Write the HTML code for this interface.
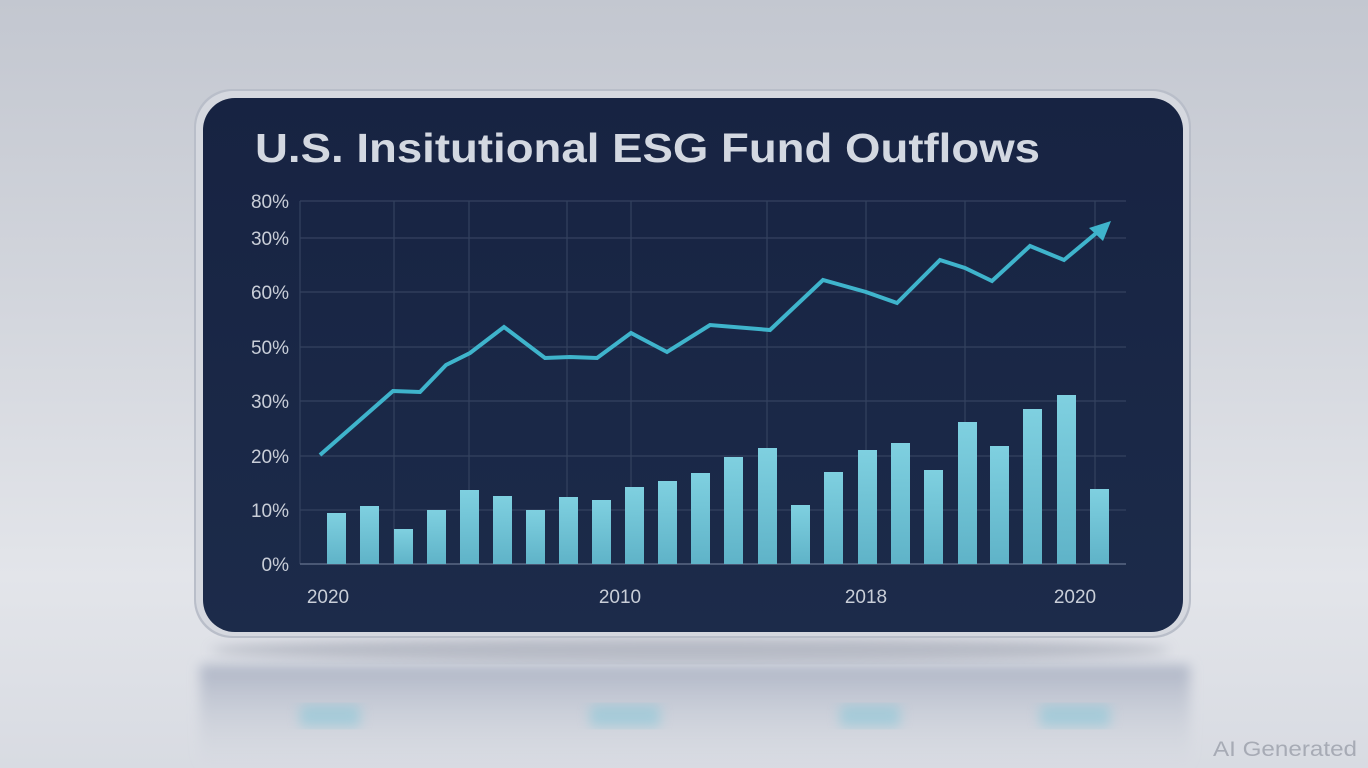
<!DOCTYPE html>
<html><head><style>
html,body{margin:0;padding:0;width:1368px;height:768px;overflow:hidden;}
body{background:linear-gradient(180deg,#c3c7d0 0%,#d3d6dd 40%,#e3e5ea 75%,#d8dbe2 100%);position:relative;font-family:"Liberation Sans",sans-serif;}
</style></head><body>
<svg width="1368" height="768" style="position:absolute;left:0;top:0">
<defs>
<linearGradient id="bar" x1="0" y1="0" x2="0" y2="1"><stop offset="0" stop-color="#7fd0e0"/><stop offset="1" stop-color="#5fb3c8"/></linearGradient>
<linearGradient id="pan" x1="0" y1="0" x2="0" y2="1"><stop offset="0" stop-color="#172342"/><stop offset="1" stop-color="#1c2b4a"/></linearGradient>
<linearGradient id="refl" x1="0" y1="0" x2="0" y2="1"><stop offset="0" stop-color="#9aa3b8" stop-opacity="0.7"/><stop offset="1" stop-color="#c8ccd6" stop-opacity="0"/></linearGradient>
<filter id="bl"><feGaussianBlur stdDeviation="6"/></filter>
</defs>
<rect x="200" y="665" width="990" height="103" fill="url(#refl)" filter="url(#bl)"/>
<g filter="url(#bl)" opacity="0.5" fill="#7fc6d8">
<rect x="300" y="705" width="60" height="22"/><rect x="590" y="705" width="70" height="22"/><rect x="840" y="705" width="60" height="22"/><rect x="1040" y="705" width="70" height="22"/>
</g>
<ellipse cx="690" cy="650" rx="480" ry="12" fill="#8d93a3" opacity="0.5" filter="url(#bl)"/>
<rect x="194" y="89" width="997" height="549" rx="38" fill="#b9bec9"/>
<rect x="196" y="91" width="993" height="545" rx="37" fill="#d5d8df"/>
<rect x="203" y="98" width="980" height="534" rx="32" fill="url(#pan)"/>
<text x="255" y="162" font-size="41" font-weight="bold" fill="#d3d8e1" textLength="785" lengthAdjust="spacingAndGlyphs">U.S. Insitutional ESG Fund Outflows</text>
<g stroke="#34425f" stroke-width="1.2">
<line x1="300" y1="201" x2="1126" y2="201"/><line x1="300" y1="238" x2="1126" y2="238"/>
<line x1="300" y1="292" x2="1126" y2="292"/><line x1="300" y1="347" x2="1126" y2="347"/>
<line x1="300" y1="401" x2="1126" y2="401"/><line x1="300" y1="456" x2="1126" y2="456"/>
<line x1="300" y1="510" x2="1126" y2="510"/>
<line x1="300" y1="201" x2="300" y2="564"/><line x1="394" y1="201" x2="394" y2="564"/>
<line x1="469" y1="201" x2="469" y2="564"/><line x1="567" y1="201" x2="567" y2="564"/>
<line x1="631" y1="201" x2="631" y2="564"/><line x1="767" y1="201" x2="767" y2="564"/>
<line x1="866" y1="201" x2="866" y2="564"/><line x1="965" y1="201" x2="965" y2="564"/>
<line x1="1095" y1="201" x2="1095" y2="564"/>
</g>
<line x1="300" y1="564" x2="1126" y2="564" stroke="#5a6784" stroke-width="1.5"/>
<g font-size="19" fill="#c9ced8" text-anchor="end">
<text x="289" y="208">80%</text><text x="289" y="245">30%</text><text x="289" y="299">60%</text>
<text x="289" y="354">50%</text><text x="289" y="408">30%</text><text x="289" y="463">20%</text>
<text x="289" y="517">10%</text><text x="289" y="571">0%</text>
</g>
<g font-size="19" fill="#c9ced8" text-anchor="middle">
<text x="328" y="603">2020</text><text x="620" y="603">2010</text><text x="866" y="603">2018</text><text x="1075" y="603">2020</text>
</g>
<g fill="url(#bar)">
<rect x="327" y="513" width="19" height="51"/><rect x="360" y="506" width="19" height="58"/>
<rect x="394" y="529" width="19" height="35"/><rect x="427" y="510" width="19" height="54"/>
<rect x="460" y="490" width="19" height="74"/><rect x="493" y="496" width="19" height="68"/>
<rect x="526" y="510" width="19" height="54"/><rect x="559" y="497" width="19" height="67"/>
<rect x="592" y="500" width="19" height="64"/><rect x="625" y="487" width="19" height="77"/>
<rect x="658" y="481" width="19" height="83"/><rect x="691" y="473" width="19" height="91"/>
<rect x="724" y="457" width="19" height="107"/><rect x="758" y="448" width="19" height="116"/>
<rect x="791" y="505" width="19" height="59"/><rect x="824" y="472" width="19" height="92"/>
<rect x="858" y="450" width="19" height="114"/><rect x="891" y="443" width="19" height="121"/>
<rect x="924" y="470" width="19" height="94"/><rect x="958" y="422" width="19" height="142"/>
<rect x="990" y="446" width="19" height="118"/><rect x="1023" y="409" width="19" height="155"/>
<rect x="1057" y="395" width="19" height="169"/><rect x="1090" y="489" width="19" height="75"/>
</g>
<polyline fill="none" stroke="#3fb4cc" stroke-width="4" stroke-linejoin="miter" points="320,455 360,420 393,391 420,392 446,365 470,353 504,327 545,358 570,357 597,358 631,333 667,352 710,325 770,330 823,280 866,292 897,303 940,260 965,268 992,281 1030,246 1064,260 1100,230"/>
<polygon points="1111,221 1089,228 1103,241" fill="#3fb4cc"/>
<text x="1213" y="756" font-size="21" fill="#a7abb5" textLength="144" lengthAdjust="spacingAndGlyphs">AI Generated</text>
</svg>
</body></html>
